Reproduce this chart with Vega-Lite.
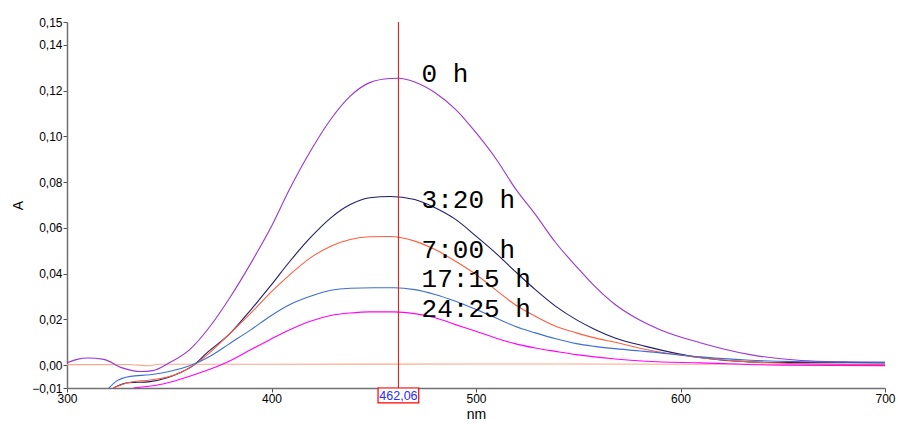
{
  "$schema": "https://vega.github.io/schema/vega-lite/v6.json",
  "width": 818,
  "height": 366,
  "autosize": {"type": "none"},
  "padding": {"left": 67, "top": 22, "right": 13, "bottom": 36},
  "config": {"view": {"stroke": null}, "font": "Liberation Sans"},
  "datasets": {
    "spectra": [
      {"series": "base", "nm": 300, "A": 0.0002},
      {"series": "base", "nm": 330, "A": 0.0003},
      {"series": "base", "nm": 340, "A": -0.0003},
      {"series": "base", "nm": 345, "A": 0.0004},
      {"series": "base", "nm": 400, "A": 0.0004},
      {"series": "base", "nm": 500, "A": 0.0005},
      {"series": "base", "nm": 600, "A": 0.0004},
      {"series": "base", "nm": 700, "A": 0.0003},

      {"series": "0 h", "nm": 300, "A": 0.001},
      {"series": "0 h", "nm": 305, "A": 0.0025},
      {"series": "0 h", "nm": 310, "A": 0.0031},
      {"series": "0 h", "nm": 318, "A": 0.0025},
      {"series": "0 h", "nm": 327, "A": -0.0012},
      {"series": "0 h", "nm": 336, "A": -0.0028},
      {"series": "0 h", "nm": 342, "A": -0.0024},
      {"series": "0 h", "nm": 350, "A": 0.001},
      {"series": "0 h", "nm": 360, "A": 0.0068},
      {"series": "0 h", "nm": 370, "A": 0.017},
      {"series": "0 h", "nm": 380, "A": 0.030},
      {"series": "0 h", "nm": 390, "A": 0.0447},
      {"series": "0 h", "nm": 400, "A": 0.0607},
      {"series": "0 h", "nm": 409, "A": 0.0772},
      {"series": "0 h", "nm": 419, "A": 0.0935},
      {"series": "0 h", "nm": 429, "A": 0.1075},
      {"series": "0 h", "nm": 438.5, "A": 0.1176},
      {"series": "0 h", "nm": 448, "A": 0.1235},
      {"series": "0 h", "nm": 458, "A": 0.1253},
      {"series": "0 h", "nm": 462, "A": 0.1254},
      {"series": "0 h", "nm": 470, "A": 0.1238},
      {"series": "0 h", "nm": 480, "A": 0.1191},
      {"series": "0 h", "nm": 490, "A": 0.1118},
      {"series": "0 h", "nm": 500, "A": 0.1016},
      {"series": "0 h", "nm": 510, "A": 0.0899},
      {"series": "0 h", "nm": 519, "A": 0.0775},
      {"series": "0 h", "nm": 529, "A": 0.0659},
      {"series": "0 h", "nm": 539, "A": 0.0535},
      {"series": "0 h", "nm": 549, "A": 0.0432},
      {"series": "0 h", "nm": 558, "A": 0.0345},
      {"series": "0 h", "nm": 568, "A": 0.0265},
      {"series": "0 h", "nm": 578, "A": 0.0207},
      {"series": "0 h", "nm": 590, "A": 0.0155},
      {"series": "0 h", "nm": 610, "A": 0.0097},
      {"series": "0 h", "nm": 634, "A": 0.0046},
      {"series": "0 h", "nm": 659, "A": 0.002},
      {"series": "0 h", "nm": 680, "A": 0.0014},
      {"series": "0 h", "nm": 700, "A": 0.0012},

      {"series": "3:20 h", "nm": 322.7, "A": -0.010},
      {"series": "3:20 h", "nm": 329, "A": -0.0078},
      {"series": "3:20 h", "nm": 340.6, "A": -0.0072},
      {"series": "3:20 h", "nm": 349, "A": -0.0055},
      {"series": "3:20 h", "nm": 356, "A": -0.003},
      {"series": "3:20 h", "nm": 362, "A": 0.0},
      {"series": "3:20 h", "nm": 368, "A": 0.005},
      {"series": "3:20 h", "nm": 380, "A": 0.0141},
      {"series": "3:20 h", "nm": 390, "A": 0.0243},
      {"series": "3:20 h", "nm": 399.4, "A": 0.0345},
      {"series": "3:20 h", "nm": 409, "A": 0.0454},
      {"series": "3:20 h", "nm": 419, "A": 0.0557},
      {"series": "3:20 h", "nm": 429, "A": 0.0644},
      {"series": "3:20 h", "nm": 438.5, "A": 0.0702},
      {"series": "3:20 h", "nm": 448, "A": 0.0732},
      {"series": "3:20 h", "nm": 458, "A": 0.0737},
      {"series": "3:20 h", "nm": 470, "A": 0.0724},
      {"series": "3:20 h", "nm": 480, "A": 0.0688},
      {"series": "3:20 h", "nm": 490, "A": 0.0637},
      {"series": "3:20 h", "nm": 500, "A": 0.0564},
      {"series": "3:20 h", "nm": 509.5, "A": 0.0491},
      {"series": "3:20 h", "nm": 519, "A": 0.0411},
      {"series": "3:20 h", "nm": 529, "A": 0.033},
      {"series": "3:20 h", "nm": 539, "A": 0.0257},
      {"series": "3:20 h", "nm": 549, "A": 0.0199},
      {"series": "3:20 h", "nm": 558.4, "A": 0.0155},
      {"series": "3:20 h", "nm": 568, "A": 0.0119},
      {"series": "3:20 h", "nm": 583, "A": 0.0082},
      {"series": "3:20 h", "nm": 610, "A": 0.0032},
      {"series": "3:20 h", "nm": 634, "A": 0.0014},
      {"series": "3:20 h", "nm": 660, "A": 0.0011},
      {"series": "3:20 h", "nm": 700, "A": 0.001},

      {"series": "7:00 h", "nm": 322.5, "A": -0.010},
      {"series": "7:00 h", "nm": 331, "A": -0.0075},
      {"series": "7:00 h", "nm": 340.6, "A": -0.0065},
      {"series": "7:00 h", "nm": 350, "A": -0.005},
      {"series": "7:00 h", "nm": 357, "A": -0.0027},
      {"series": "7:00 h", "nm": 362, "A": 0.0},
      {"series": "7:00 h", "nm": 366, "A": 0.0026},
      {"series": "7:00 h", "nm": 380, "A": 0.0141},
      {"series": "7:00 h", "nm": 390, "A": 0.0228},
      {"series": "7:00 h", "nm": 399.4, "A": 0.0316},
      {"series": "7:00 h", "nm": 409, "A": 0.0396},
      {"series": "7:00 h", "nm": 419, "A": 0.0469},
      {"series": "7:00 h", "nm": 429, "A": 0.052},
      {"series": "7:00 h", "nm": 438.5, "A": 0.0549},
      {"series": "7:00 h", "nm": 448, "A": 0.0561},
      {"series": "7:00 h", "nm": 458, "A": 0.0562},
      {"series": "7:00 h", "nm": 470, "A": 0.0542},
      {"series": "7:00 h", "nm": 480, "A": 0.0505},
      {"series": "7:00 h", "nm": 490, "A": 0.0454},
      {"series": "7:00 h", "nm": 500, "A": 0.0396},
      {"series": "7:00 h", "nm": 509.5, "A": 0.033},
      {"series": "7:00 h", "nm": 519, "A": 0.0265},
      {"series": "7:00 h", "nm": 529, "A": 0.0214},
      {"series": "7:00 h", "nm": 539, "A": 0.017},
      {"series": "7:00 h", "nm": 549, "A": 0.0141},
      {"series": "7:00 h", "nm": 558, "A": 0.0119},
      {"series": "7:00 h", "nm": 568, "A": 0.01},
      {"series": "7:00 h", "nm": 583, "A": 0.0068},
      {"series": "7:00 h", "nm": 610, "A": 0.0032},
      {"series": "7:00 h", "nm": 634, "A": 0.0014},
      {"series": "7:00 h", "nm": 660, "A": 0.0006},
      {"series": "7:00 h", "nm": 700, "A": 0.0002},

      {"series": "17:15 h", "nm": 320.5, "A": -0.010},
      {"series": "17:15 h", "nm": 324, "A": -0.0071},
      {"series": "17:15 h", "nm": 331, "A": -0.0049},
      {"series": "17:15 h", "nm": 340.6, "A": -0.0042},
      {"series": "17:15 h", "nm": 350.4, "A": -0.0027},
      {"series": "17:15 h", "nm": 360, "A": -0.0003},
      {"series": "17:15 h", "nm": 370, "A": 0.0039},
      {"series": "17:15 h", "nm": 380, "A": 0.0097},
      {"series": "17:15 h", "nm": 390, "A": 0.0155},
      {"series": "17:15 h", "nm": 399.4, "A": 0.0214},
      {"series": "17:15 h", "nm": 409, "A": 0.0265},
      {"series": "17:15 h", "nm": 419, "A": 0.0301},
      {"series": "17:15 h", "nm": 429, "A": 0.0327},
      {"series": "17:15 h", "nm": 438.5, "A": 0.0336},
      {"series": "17:15 h", "nm": 450, "A": 0.0338},
      {"series": "17:15 h", "nm": 460, "A": 0.0338},
      {"series": "17:15 h", "nm": 470, "A": 0.033},
      {"series": "17:15 h", "nm": 480, "A": 0.0309},
      {"series": "17:15 h", "nm": 490, "A": 0.0279},
      {"series": "17:15 h", "nm": 500, "A": 0.0243},
      {"series": "17:15 h", "nm": 509.5, "A": 0.0207},
      {"series": "17:15 h", "nm": 519, "A": 0.017},
      {"series": "17:15 h", "nm": 529, "A": 0.0141},
      {"series": "17:15 h", "nm": 539, "A": 0.0115},
      {"series": "17:15 h", "nm": 549, "A": 0.0094},
      {"series": "17:15 h", "nm": 558, "A": 0.0082},
      {"series": "17:15 h", "nm": 568, "A": 0.0072},
      {"series": "17:15 h", "nm": 585, "A": 0.0058},
      {"series": "17:15 h", "nm": 610, "A": 0.0036},
      {"series": "17:15 h", "nm": 634, "A": 0.0021},
      {"series": "17:15 h", "nm": 660, "A": 0.0015},
      {"series": "17:15 h", "nm": 700, "A": 0.0012},

      {"series": "24:25 h", "nm": 332.5, "A": -0.010},
      {"series": "24:25 h", "nm": 345.5, "A": -0.0085},
      {"series": "24:25 h", "nm": 355, "A": -0.0063},
      {"series": "24:25 h", "nm": 367, "A": -0.0027},
      {"series": "24:25 h", "nm": 378, "A": 0.0012},
      {"series": "24:25 h", "nm": 390, "A": 0.0068},
      {"series": "24:25 h", "nm": 399.4, "A": 0.0112},
      {"series": "24:25 h", "nm": 409, "A": 0.0155},
      {"series": "24:25 h", "nm": 419, "A": 0.0192},
      {"series": "24:25 h", "nm": 429, "A": 0.0217},
      {"series": "24:25 h", "nm": 438.5, "A": 0.0228},
      {"series": "24:25 h", "nm": 448, "A": 0.0233},
      {"series": "24:25 h", "nm": 460, "A": 0.0233},
      {"series": "24:25 h", "nm": 470, "A": 0.0225},
      {"series": "24:25 h", "nm": 480, "A": 0.0207},
      {"series": "24:25 h", "nm": 490, "A": 0.0177},
      {"series": "24:25 h", "nm": 500, "A": 0.0148},
      {"series": "24:25 h", "nm": 509.5, "A": 0.0119},
      {"series": "24:25 h", "nm": 519, "A": 0.0094},
      {"series": "24:25 h", "nm": 529, "A": 0.0075},
      {"series": "24:25 h", "nm": 539, "A": 0.006},
      {"series": "24:25 h", "nm": 549, "A": 0.0046},
      {"series": "24:25 h", "nm": 558, "A": 0.0036},
      {"series": "24:25 h", "nm": 568, "A": 0.0027},
      {"series": "24:25 h", "nm": 583, "A": 0.0017},
      {"series": "24:25 h", "nm": 610, "A": 0.001},
      {"series": "24:25 h", "nm": 650, "A": 0.0},
      {"series": "24:25 h", "nm": 700, "A": -0.0002}
    ],
    "labels": [
      {"label": "0 h", "nm": 473.4, "A": 0.1238},
      {"label": "3:20 h", "nm": 473.4, "A": 0.0685},
      {"label": "7:00 h", "nm": 473.4, "A": 0.0470},
      {"label": "17:15 h", "nm": 473.4, "A": 0.0343},
      {"label": "24:25 h", "nm": 473.4, "A": 0.0212}
    ],
    "marker": [
      {"nm": 462.06, "text": "462,06"}
    ]
  },
  "layer": [
    {
      "data": {"name": "spectra"},
      "mark": {"type": "line", "strokeWidth": 1.1, "interpolate": "monotone"},
      "encoding": {
        "x": {
          "field": "nm", "type": "quantitative",
          "scale": {"domain": [300, 700], "nice": false, "zero": false},
          "axis": {
            "title": "nm", "values": [300, 400, 500, 600, 700], "format": "d",
            "grid": false, "domainColor": "#707070", "domainWidth": 1.5,
            "tickColor": "#505050", "tickSize": 4, "labelColor": "#000000",
            "labelFontSize": 12, "labelPadding": 1, "labelFont": "Liberation Sans",
            "labelFlush": false, "labelOverlap": false,
            "titleFont": "Liberation Sans", "titleFontSize": 14, "titleFontWeight": "normal",
            "titleColor": "#000000", "titlePadding": 3
          }
        },
        "y": {
          "field": "A", "type": "quantitative",
          "scale": {"domain": [-0.01, 0.15], "nice": false, "zero": false},
          "axis": {
            "title": "A", "values": [-0.01, 0, 0.02, 0.04, 0.06, 0.08, 0.1, 0.12, 0.14, 0.15],
            "labelExpr": "replace(format(datum.value, '.2f'), '.', ',')",
            "grid": false, "domainColor": "#707070", "domainWidth": 1.5,
            "tickColor": "#505050", "tickSize": 4, "labelColor": "#000000",
            "labelFontSize": 12, "labelPadding": 1, "labelFont": "Liberation Sans",
            "labelFlush": false, "labelOverlap": false,
            "titleFont": "Liberation Sans", "titleFontSize": 14, "titleFontWeight": "normal",
            "titleColor": "#000000", "titlePadding": 6
          }
        },
        "color": {
          "field": "series", "type": "nominal",
          "scale": {
            "domain": ["base", "24:25 h", "17:15 h", "7:00 h", "3:20 h", "0 h"],
            "range": ["#ffa585", "#ff00ff", "#3b6fd6", "#ff5c3f", "#1c1c6b", "#9b35d6"]
          },
          "legend": null
        },
        "order": {"field": "nm", "type": "quantitative"}
      }
    },
    {
      "data": {"name": "marker"},
      "mark": {"type": "rule", "color": "#ff0000", "strokeWidth": 1},
      "encoding": {
        "x": {"field": "nm", "type": "quantitative"}
      }
    },
    {
      "data": {"name": "marker"},
      "mark": {"type": "rect", "fill": "#ffffff", "stroke": "#ff0000", "strokeWidth": 1.2},
      "encoding": {
        "x": {"datum": 452.1, "type": "quantitative"},
        "x2": {"datum": 472.0},
        "y": {"datum": -0.01, "type": "quantitative"},
        "y2": {"datum": -0.0165}
      }
    },
    {
      "data": {"name": "marker"},
      "mark": {"type": "text", "color": "#2a2aff", "fontSize": 12.5, "font": "Liberation Sans", "align": "center", "baseline": "middle"},
      "encoding": {
        "x": {"field": "nm", "type": "quantitative"},
        "y": {"datum": -0.0133, "type": "quantitative"},
        "text": {"field": "text"}
      }
    },
    {
      "data": {"name": "labels"},
      "mark": {"type": "text", "font": "Liberation Mono", "fontSize": 26, "align": "left", "baseline": "alphabetic", "color": "#000000"},
      "encoding": {
        "x": {"field": "nm", "type": "quantitative"},
        "y": {"field": "A", "type": "quantitative"},
        "text": {"field": "label"}
      }
    }
  ]
}
